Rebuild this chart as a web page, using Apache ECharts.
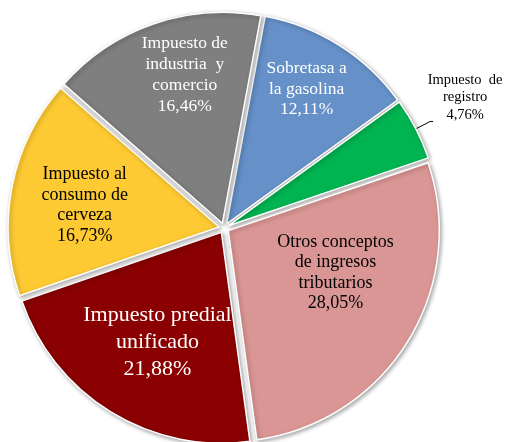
<!DOCTYPE html>
<html>
<head>
<meta charset="utf-8">
<script src="https://cdn.jsdelivr.net/npm/echarts@6/dist/echarts.min.js"></script>
<style>
  html, body { margin: 0; padding: 0; background: #fff; }
  #chart { width: 505px; height: 442px; }
</style>
</head>
<body>
<div id="chart"></div>
<script>
// Tax revenue shares, clockwise from the top
const categories = [
  'Sobretasa a la gasolina',
  'Impuesto de registro',
  'Otros conceptos de ingresos tributarios',
  'Impuesto predial unificado',
  'Impuesto al consumo de cerveza',
  'Impuesto de industria y comercio'
];
const shares = [12.11, 4.76, 28.05, 21.88, 16.73, 16.46];
// Label text as it wraps inside each slice
const labelLines = [
  ['Sobretasa a', 'la gasolina'],
  ['Impuesto  de', 'registro'],
  ['Otros conceptos', 'de ingresos', 'tributarios'],
  ['Impuesto predial', 'unificado'],
  ['Impuesto al', 'consumo de', 'cerveza'],
  ['Impuesto de', 'industria  y', 'comercio']
];
const sliceColors = ['#6590C8', '#00B451', '#DA9694', '#8B0000', '#FDCA33', '#7F7F7F'];
const textColors = ['#ffffff', '#000000', '#000000', '#ffffff', '#000000', '#ffffff'];
const fontSizes = [17.5, 14.5, 18, 22, 18, 17.5];
const lineHeights = [20.5, 17.5, 20.5, 27, 20.5, 21];
// nudges of each label from its default anchor
const labelShift = [[22, -43], [-13, -24], [15, -15], [-7, 17.5], [-28, -1], [-2, -46]];

const fmt = v => v.toFixed(2).replace('.', ',') + '%';

const data = categories.map((name, i) => ({
  name,
  value: shares[i],
  selected: true,
  itemStyle: { color: sliceColors[i] },
  label: {
    position: i === 1 ? 'outside' : 'inside',
    formatter: () => '{t|' + labelLines[i].concat([fmt(shares[i])]).join('}\n{t|') + '}',
    rich: {
      t: {
        fontFamily: 'Liberation Serif',
        fontSize: fontSizes[i],
        lineHeight: lineHeights[i],
        color: textColors[i],
        align: 'center',
        width: i === 1 ? 80 : undefined
      }
    }
  },
  labelLine: i === 1 ? { show: true, length: 16, length2: 3, lineStyle: { color: '#000', width: 1 } } : { show: false }
}));

const chart = echarts.init(document.getElementById('chart'));
chart.setOption({
  animation: false,
  series: [{
    type: 'pie',
    center: [224, 228],
    radius: 211,
    startAngle: 79.5,
    clockwise: true,
    selectedMode: 'multiple',
    selectedOffset: 5,
    avoidLabelOverlap: false,
    itemStyle: {
      borderColor: '#ffffff',
      borderWidth: 1.5,
      shadowBlur: 4,
      shadowOffsetX: 1.5,
      shadowOffsetY: 1.5,
      shadowColor: 'rgba(0,0,0,0.35)'
    },
    emphasis: { disabled: true },
    label: { show: true },
    labelLayout: p => ({ dx: labelShift[p.dataIndex][0], dy: labelShift[p.dataIndex][1] }),
    data
  }]
});
</script>
</body>
</html>
